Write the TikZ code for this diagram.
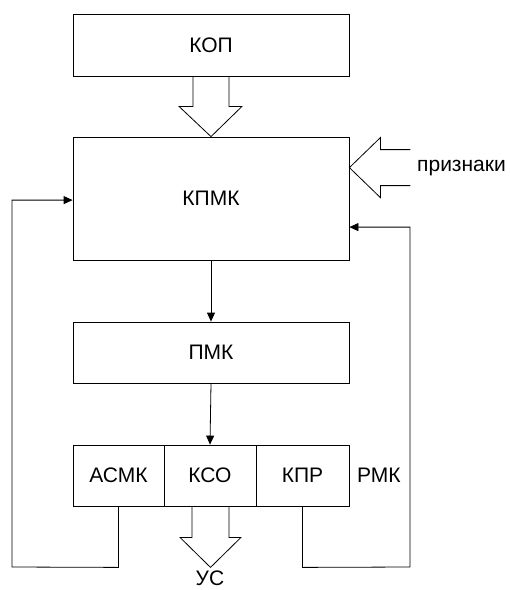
\documentclass[tikz,border=0pt]{standalone}
\usepackage{fontspec}
\setmainfont{Liberation Sans}
\usetikzlibrary{arrows.meta,calc}
\begin{document}
\begin{tikzpicture}[x=1pt,y=-1pt,
  box/.style={draw,line width=0.8pt,inner sep=0pt,minimum height=61pt,font=\fontsize{21}{25}\selectfont},
  lbl/.style={inner sep=0pt,font=\fontsize{21}{25}\selectfont},
  conn/.style={line width=0.8pt,-{Triangle[length=9pt,width=8pt]}},
  fat/.style={line width=0.8pt,line join=miter}]
\useasboundingbox (0,0) rectangle (510,590);
\node[box,minimum width=276pt,minimum height=62pt] (kop) at (211,45) {КОП};
\node[box,minimum width=276pt,minimum height=123pt] (kpmk) at (211,198.5) {КПМК};
\node[box,minimum width=276pt] (pmk) at (211,352.5) {ПМК};
\node[box,minimum width=91pt] (asmk) at (118.5,475.5) {АСМК};
\node[box,minimum width=92pt] (kso) at (210,475.5) {КСО};
\node[box,minimum width=93pt] (kpr) at (302.5,475.5) {КПР};
\node[lbl,anchor=west] (rmk) at (357,475.5) {РМК};
\node[lbl,anchor=west] (priz) at (417,168) {признаки};
\node[lbl] (us) at (210,578) {УС};
% fat arrow KOP -> KPMK
\draw[fat] ($(kop.south)+(-18,0)$) -- ++(0,30) -- ++(-14,0) -- (kpmk.north)
  -- ($(kop.south)+(31,30)$) -- ++(-13,0) -- ($(kop.south)+(18,0)$);
% fat arrow priznaki -> KPMK
\coordinate (ptip) at ($(kpmk.north east)+(0,31)$);
\draw[fat] ($(ptip)+(61,-18)$) -- ++(-30,0) -- ++(0,-12) -- (ptip)
  -- ($(ptip)+(31,30)$) -- ++(0,-12) -- ++(30,0);
% fat arrow KSO -> US
\coordinate (utip) at ($(kso.south)+(0.5,61)$);
\draw[fat] ($(kso.south)+(-18,0)$) -- ++(0,31) -- ++(-12,0) -- (utip)
  -- ($(kso.south)+(31,31)$) -- ++(-12,0) -- ($(kso.south)+(19,0)$);
% thin arrows
\draw[conn] (kpmk.south) -- (pmk.north);
\draw[conn] (pmk.south) -- (kso.north);
% feedback loops
\draw[conn] (asmk.south) -- ++(0,61) -- (12,567) |- ($(kpmk.north west)+(0,63.5)$);
\draw[conn] (kpr.south) -- ++(0,61) -- (410,567) |- ($(kpmk.north east)+(0,90.5)$);
\end{tikzpicture}
\end{document}
